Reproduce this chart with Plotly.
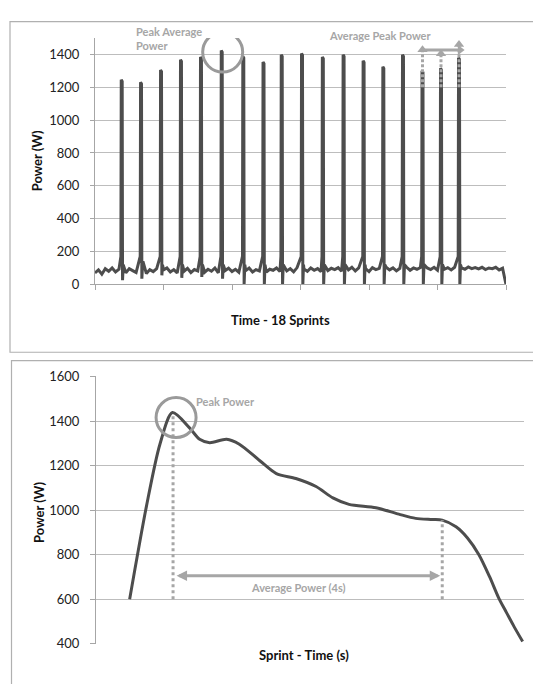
import plotly.graph_objects as go

# ---------------- data: top chart (18 sprints) ----------------
sprint_min = [3.90, 6.72, 9.64, 12.55, 15.47, 18.50, 21.65, 24.60, 27.26,
              30.22, 33.26, 36.29, 39.21, 42.09, 44.96, 47.81, 50.51, 53.14]
sprint_peak = [1245, 1230, 1305, 1368, 1384, 1424, 1388, 1354, 1398,
               1406, 1384, 1398, 1362, 1325, 1398, 1300, 1315, 1380]
sprint_dip = [25, 35, 55, 40, 45, 35, 0, 0, 0, 0, 0, 0, 0, 0, 0, 0, 0, 0]

base_min = [i * 0.5 for i in range(121)]
base_w = [
    70, 88, 62, 95, 80, 100, 76, 92,
    120, 70, 96, 84, 72, 98, 140, 66,
    90, 78, 96, 74, 88, 100, 76, 90,
    70, 94, 80, 98, 72, 90, 82, 96,
    74, 92, 80, 100, 70, 95, 84, 98,
    78, 92, 74, 96, 84, 100, 76, 90,
    82, 98, 74, 92, 86, 100, 78, 94,
    82, 96, 76, 102, 84, 94, 80, 100,
    86, 96, 78, 104, 84, 98, 90, 102,
    80, 96, 88, 104, 82, 100, 86, 96,
    78, 102, 90, 98, 84, 104, 88, 100,
    82, 98, 90, 104, 86, 100, 92, 102,
    84, 100, 90, 104, 86, 98, 92, 102,
    88, 104, 96, 100, 92, 106, 96, 102,
    94, 104, 90, 100, 96, 104, 88, 98,
    0,
]

# spike profile: time offsets (min) around each sprint
spike_offsets = [-0.12, -0.07, 0.07, 0.12, 0.22]

# arrows marking the average of the last peaks
avg_arrow_sprints = [15, 16, 17]           # indexes of sprints 16..18
avg_arrow_heads = [1428, 1404, 1461]
avg_line_w = 1427
avg_line_end = 53.3

top_yticks = [0, 200, 400, 600, 800, 1000, 1200, 1400]

# ---------------- data: bottom chart (one sprint) ----------------
sprint_t = [0.50, 0.75, 0.95, 1.136, 1.39, 1.54, 1.69, 1.94, 2.13, 2.43, 2.68,
            2.97, 3.27, 3.52, 3.76, 4.16, 4.50, 4.75, 5.00, 5.145, 5.35, 5.52,
            5.69, 5.85, 5.985, 6.10, 6.21, 6.34]
sprint_w = [600, 1018, 1296, 1438, 1369, 1318, 1303, 1318, 1296, 1223, 1164,
            1142, 1106, 1055, 1026, 1011, 982, 963, 958, 955, 925, 875,
            800, 700, 605, 540, 478, 410]
peak_t, peak_w = 1.145, 1432
avg_end_t, avg_end_w = 5.145, 955
avg_arrow_y = 705
bottom_yticks = [400, 600, 800, 1000, 1200, 1400, 1600]

# ---------------- build top series ----------------
pts = [(t, v) for t, v in zip(base_min, base_w)
       if all(abs(t - s) > 0.25 for s in sprint_min)]
for s, p, d in zip(sprint_min, sprint_peak, sprint_dip):
    vals = [170, p, p - 10, d, 120]
    pts += [(s + o, v) for o, v in zip(spike_offsets, vals)]
pts.sort()
top_x = [p[0] for p in pts]
top_y = [p[1] for p in pts]

W, H = 533, 684
LINE = "#4d4d4d"
GRID = "#bdbdbd"
AXIS = "#a6a6a6"
NOTE = "#a6a6a6"
FONT = "Lato, 'Open Sans', sans-serif"

fig = go.Figure()
fig.add_trace(go.Scatter(x=top_x, y=top_y, mode="lines",
                         line=dict(color=LINE, width=3), xaxis="x", yaxis="y",
                         hoverinfo="skip"))
fig.add_trace(go.Scatter(x=sprint_t, y=sprint_w, mode="lines",
                         line=dict(color=LINE, width=3, shape="spline", smoothing=0.8),
                         xaxis="x2", yaxis="y2", hoverinfo="skip"))

shapes = []
# panel boxes
shapes.append(dict(type="rect", xref="paper", yref="paper",
                   x0=10 / W, x1=545 / W, y0=1 - 14 / H, y1=1 - 352.5 / H,
                   line=dict(color="#b0b0b0", width=1.2), layer="below"))
shapes.append(dict(type="rect", xref="paper", yref="paper",
                   x0=11.5 / W, x1=545 / W, y0=1 - 361 / H, y1=1 - 700 / H,
                   line=dict(color="#b0b0b0", width=1.2), layer="below"))

# top: dashed arrows on last three sprints
for i, head in zip(avg_arrow_sprints, avg_arrow_heads):
    shapes.append(dict(type="line", xref="x", yref="y",
                       x0=sprint_min[i], x1=sprint_min[i], y0=1200, y1=head,
                       line=dict(color=NOTE, width=3, dash="3px,2px"), layer="above"))
shapes.append(dict(type="line", xref="x", yref="y",
                   x0=sprint_min[avg_arrow_sprints[0]], x1=avg_line_end,
                   y0=avg_line_w, y1=avg_line_w,
                   line=dict(color=NOTE, width=3), layer="above"))
# top: circle around peak sprint
shapes.append(dict(type="circle", xref="x", yref="y",
                   xsizemode="pixel", ysizemode="pixel",
                   xanchor=18.64, yanchor=1414, x0=-20, x1=20, y0=-20, y1=20,
                   line=dict(color="#9a9a9a", width=3), layer="above"))

# bottom: dotted verticals
shapes.append(dict(type="line", xref="x2", yref="y2",
                   x0=peak_t, x1=peak_t, y0=600, y1=peak_w,
                   line=dict(color=NOTE, width=3, dash="dot"), layer="above"))
shapes.append(dict(type="line", xref="x2", yref="y2",
                   x0=avg_end_t, x1=avg_end_t, y0=600, y1=avg_end_w,
                   line=dict(color=NOTE, width=3, dash="dot"), layer="above"))
shapes.append(dict(type="circle", xref="x2", yref="y2",
                   xsizemode="pixel", ysizemode="pixel",
                   xanchor=1.19, yanchor=1416, x0=-20, x1=20, y0=-20, y1=20,
                   line=dict(color="#9a9a9a", width=3), layer="above"))

# arrow heads (top)
fig.add_trace(go.Scatter(x=[sprint_min[i] for i in avg_arrow_sprints] + [avg_line_end],
                         y=avg_arrow_heads + [avg_line_w],
                         mode="markers",
                         marker=dict(symbol=["triangle-up"] * 3 + ["triangle-right"],
                                     size=9, color=NOTE),
                         xaxis="x", yaxis="y", hoverinfo="skip"))


def note(text, x, y, size=11, color=NOTE, angle=0, xanchor="center", align="center"):
    return dict(text=text, xref="paper", yref="paper", x=x / W, y=1 - y / H,
                xanchor=xanchor, yanchor="middle", align=align, textangle=angle,
                showarrow=False, font=dict(size=size, color=color, family=FONT))


annotations = [
    note("<b>Power (W)</b>", 37, 157, 13, "#111", -90),
    note("<b>Time - 18 Sprints</b>", 280, 319, 13, "#111"),
    note("<b>Power (W)</b>", 39, 517, 13, "#111", -90),
    note("<b>Sprint - Time (s)</b>", 304, 663, 13, "#111"),
    note("<b>Peak Average<br>Power</b>", 134, 31, xanchor="left", align="left"),
    note("<b>Average Peak Power</b>", 380, 28),
    dict(text="<b>Peak Power</b>", xref="x2", yref="y2", x=1.926, y=1489,
         showarrow=False, font=dict(size=11, color=NOTE, family=FONT)),
    dict(text="<b>Average Power (4s)</b>", xref="x2", yref="y2", x=3.01, y=652,
         showarrow=False, font=dict(size=11, color=NOTE, family=FONT)),
    dict(text="", xref="x2", yref="y2", x=avg_end_t - 0.03, y=avg_arrow_y,
         axref="x2", ayref="y2", ax=peak_t + 0.03, ay=avg_arrow_y,
         showarrow=True, arrowhead=2, startarrowhead=2, arrowside="end+start",
         arrowwidth=3, arrowsize=0.7, startarrowsize=0.7, arrowcolor=NOTE),
]

tickfont = dict(size=13, color="#222", family=FONT)
fig.update_layout(
    width=W, height=H, margin=dict(l=0, r=0, t=0, b=0),
    paper_bgcolor="white", plot_bgcolor="white", showlegend=False,
    shapes=shapes, annotations=annotations,
    xaxis=dict(domain=[95 / W, 506 / W], range=[0, 60], tickvals=[0, 10, 20, 30, 40, 50, 60],
               showticklabels=False, ticks="outside", ticklen=5, tickcolor=AXIS,
               showline=True, linecolor=AXIS, linewidth=1, showgrid=False, zeroline=False,
               anchor="y"),
    yaxis=dict(domain=[1 - 283 / H, 1 - 30.7 / H], range=[0, 1500], tickvals=top_yticks,
               ticks="outside", ticklen=4, tickcolor=AXIS, tickfont=tickfont,
               ticklabelstandoff=8,
               showline=True, linecolor=AXIS, linewidth=1, showgrid=True,
               gridcolor=GRID, gridwidth=1, zeroline=False, anchor="x"),
    xaxis2=dict(domain=[96 / W, 524 / W], range=[0, 6.36], showticklabels=False,
                ticks="", showline=False, showgrid=False, zeroline=False, anchor="y2"),
    yaxis2=dict(domain=[1 - 651 / H, 1 - 377.3 / H], range=[400, 1600], tickvals=bottom_yticks,
                ticks="outside", ticklen=5, tickcolor=AXIS, tickfont=tickfont,
                ticklabelstandoff=8,
                showline=True, linecolor=AXIS, linewidth=1, showgrid=True,
                gridcolor=GRID, gridwidth=1, zeroline=False, anchor="x2"),
)

fig.write_html("out.html",
               config={"displayModeBar": False, "staticPlot": True},
               post_script="document.body.style.margin='0px';"
                           "document.body.style.overflow='hidden';")
